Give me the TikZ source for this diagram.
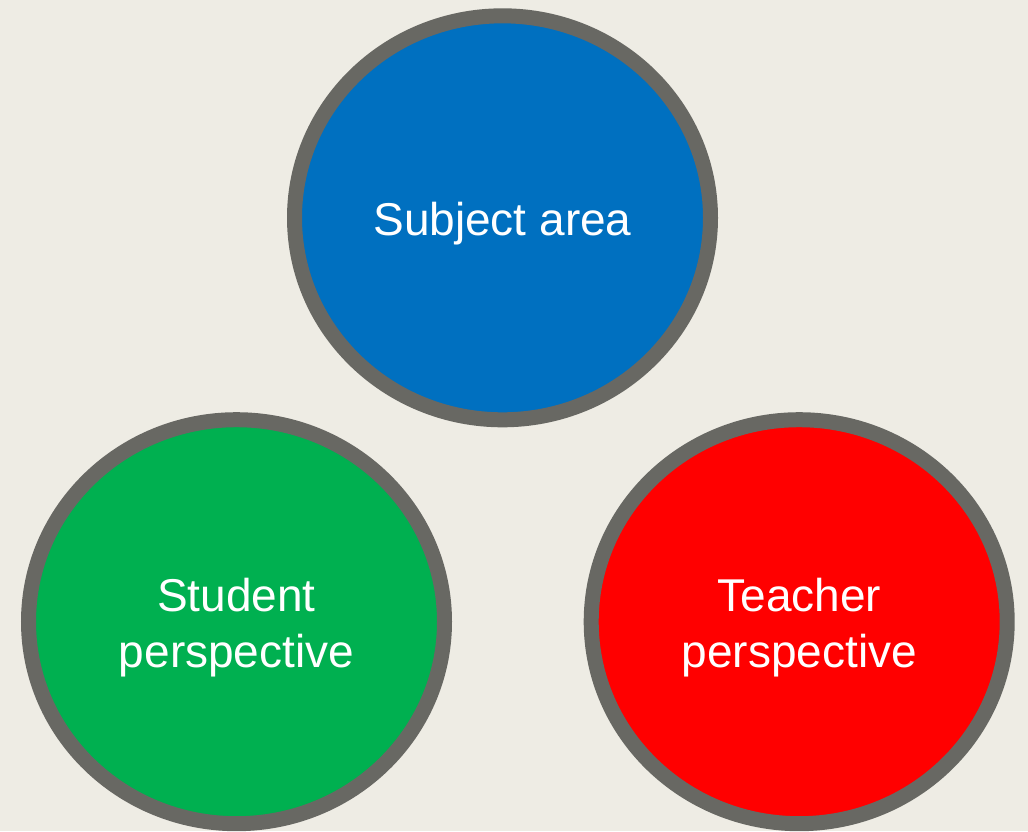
\documentclass[tikz,border=0pt]{standalone}
\usepackage{fontspec}
\setmainfont{Liberation Sans}
\usetikzlibrary{shapes.geometric}
\definecolor{bgc}{HTML}{EEECE4}
\definecolor{ringc}{HTML}{686863}
\definecolor{bluec}{HTML}{0070C0}
\definecolor{greenc}{HTML}{00B050}
\definecolor{redc}{HTML}{FF0000}
\tikzset{
  bubble/.style={ellipse, draw=ringc, line width=15pt, minimum width=416pt, minimum height=404pt,
    inner sep=0pt, outer sep=0pt},
  bubbletext/.style={text=white, align=center, inner sep=0pt,
    font=\fontsize{46}{56.7}\selectfont}
}
\begin{document}
\begin{tikzpicture}[x=1pt,y=-1pt]
\fill[bgc] (0,0) rectangle (1028,831);
\useasboundingbox (0,0) rectangle (1028,831);
\node[bubble, fill=bluec] (subj) at (502.5,217.8) {};
\node[bubble, fill=greenc] (stud) at (236.5,621.7) {};
\node[bubble, fill=redc] (teach) at (799.2,621.7) {};
\node[bubbletext, yshift=-6pt] (subjt) at (subj.center) {Subject area};
\node[bubbletext, yshift=-6pt] (studt) at (stud.center) {Student\\perspective};
\node[bubbletext, yshift=-6pt] (teacht) at (teach.center) {Teacher\\perspective};
\end{tikzpicture}
\end{document}
